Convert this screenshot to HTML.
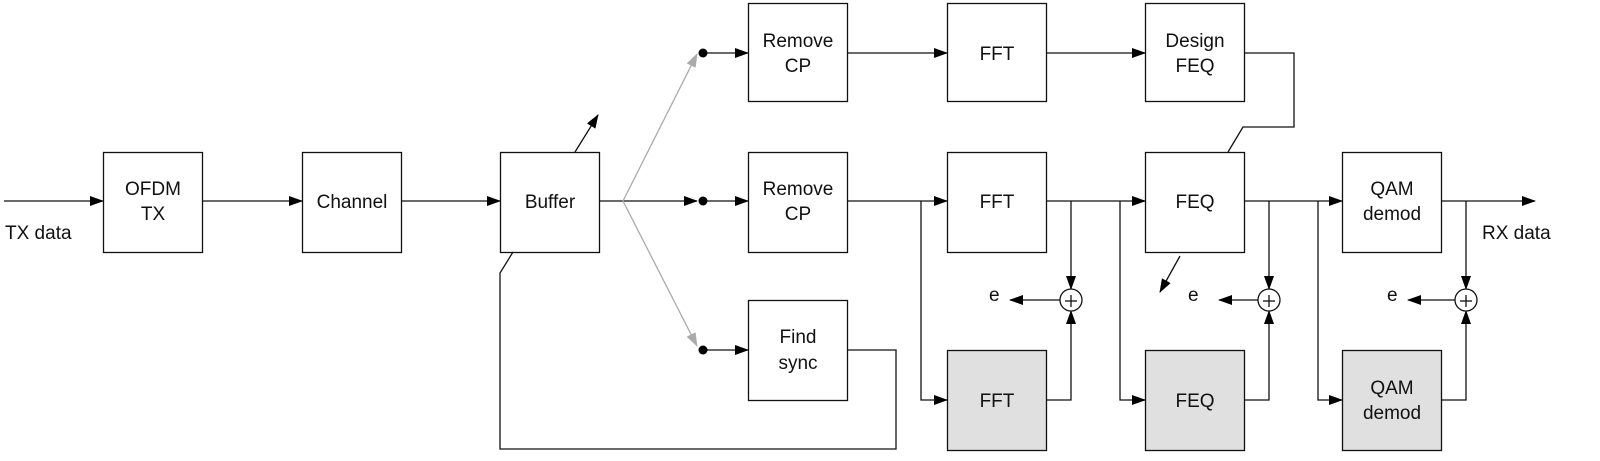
<!DOCTYPE html>
<html><head><meta charset="utf-8"><style>
html,body{margin:0;padding:0;background:#fff;overflow:hidden;width:1600px;height:461px;}
svg{display:block;}
text{font-family:"Liberation Sans",Arial,sans-serif;font-size:19px;fill:#111;}
</style></head><body>
<svg width="1600" height="461" viewBox="0 0 1600 461" xmlns="http://www.w3.org/2000/svg">
<defs>
<marker id="a" markerUnits="userSpaceOnUse" markerWidth="14" markerHeight="10" refX="13" refY="5" orient="auto"><path d="M0,0 L14,5 L0,10 Z" fill="#000"/></marker>
<marker id="g" markerUnits="userSpaceOnUse" markerWidth="14" markerHeight="10" refX="13" refY="5" orient="auto"><path d="M0,0 L14,5 L0,10 Z" fill="#aaa"/></marker>
</defs>
<g fill="none" stroke="#111" stroke-width="1.3">
<rect x="103.5" y="152.5" width="99" height="100" fill="#fff"/>
<rect x="302.5" y="152.5" width="99" height="100" fill="#fff"/>
<rect x="500.5" y="152.5" width="99" height="100" fill="#fff"/>
<rect x="748.5" y="3.5" width="99" height="98" fill="#fff"/>
<rect x="947.5" y="3.5" width="99" height="98" fill="#fff"/>
<rect x="1145.5" y="3.5" width="99" height="98" fill="#fff"/>
<rect x="748.5" y="152.5" width="99" height="100" fill="#fff"/>
<rect x="947.5" y="152.5" width="99" height="100" fill="#fff"/>
<rect x="1145.5" y="152.5" width="99" height="100" fill="#fff"/>
<rect x="1342.5" y="152.5" width="99" height="100" fill="#fff"/>
<rect x="748.5" y="300.5" width="99" height="100" fill="#fff"/>
<rect x="947.5" y="350.5" width="99" height="100" fill="#e0e0e0"/>
<rect x="1145.5" y="350.5" width="99" height="100" fill="#e0e0e0"/>
<rect x="1342.5" y="350.5" width="99" height="100" fill="#e0e0e0"/>
<line x1="4" y1="201" x2="103" y2="201" marker-end="url(#a)"/>
<line x1="203" y1="201" x2="302" y2="201" marker-end="url(#a)"/>
<line x1="401" y1="201" x2="500" y2="201" marker-end="url(#a)"/>
<line x1="599" y1="201" x2="697" y2="201" marker-end="url(#a)"/>
<line x1="575" y1="152" x2="598" y2="115" marker-end="url(#a)"/>
<line x1="623" y1="201" x2="697" y2="54" stroke="#aaa" marker-end="url(#g)"/>
<line x1="623" y1="201" x2="697" y2="346" stroke="#aaa" marker-end="url(#g)"/>
<line x1="703" y1="53" x2="748" y2="53" marker-end="url(#a)"/>
<line x1="703" y1="201" x2="748" y2="201" marker-end="url(#a)"/>
<line x1="703" y1="350" x2="748" y2="350" marker-end="url(#a)"/>
<line x1="847" y1="53" x2="947" y2="53" marker-end="url(#a)"/>
<line x1="1046" y1="53" x2="1145" y2="53" marker-end="url(#a)"/>
<polyline points="1244,53 1294,53 1294,127 1243,127 1228,152"/>
<polyline points="513,252 500,273 500,449 896,449 896,350 847,350"/>
<line x1="847" y1="201" x2="947" y2="201" marker-end="url(#a)"/>
<polyline points="921,201 921,400 947,400" marker-end="url(#a)"/>
<line x1="1046" y1="201" x2="1145" y2="201" marker-end="url(#a)"/>
<line x1="1071" y1="201" x2="1071" y2="289" marker-end="url(#a)"/>
<polyline points="1120,201 1120,400 1145,400" marker-end="url(#a)"/>
<polyline points="1046,400 1071,400 1071,311" marker-end="url(#a)"/>
<line x1="1060" y1="300" x2="1010" y2="300" marker-end="url(#a)"/>
<circle cx="1071" cy="300" r="11" fill="#fff"/>
<line x1="1180" y1="256" x2="1160" y2="292" marker-end="url(#a)"/>
<line x1="1244" y1="201" x2="1342" y2="201" marker-end="url(#a)"/>
<line x1="1269" y1="201" x2="1269" y2="289" marker-end="url(#a)"/>
<polyline points="1318,201 1318,400 1342,400" marker-end="url(#a)"/>
<polyline points="1244,400 1269,400 1269,311" marker-end="url(#a)"/>
<line x1="1258" y1="300" x2="1219" y2="300" marker-end="url(#a)"/>
<circle cx="1269" cy="300" r="11" fill="#fff"/>
<line x1="1441" y1="201" x2="1535" y2="201" marker-end="url(#a)"/>
<line x1="1466" y1="201" x2="1466" y2="289" marker-end="url(#a)"/>
<polyline points="1441,400 1466,400 1466,311" marker-end="url(#a)"/>
<line x1="1455" y1="300" x2="1408" y2="300" marker-end="url(#a)"/>
<circle cx="1466" cy="300" r="11" fill="#fff"/>
</g>
<g fill="#000">
<circle cx="703" cy="53" r="4.5"/><circle cx="703" cy="201" r="4.5"/><circle cx="703" cy="350" r="4.5"/>
</g>
<g stroke="#111" stroke-width="1.3">
<line x1="1065" y1="301" x2="1077" y2="301"/><line x1="1071" y1="295" x2="1071" y2="307"/>
<line x1="1263" y1="301" x2="1275" y2="301"/><line x1="1269" y1="295" x2="1269" y2="307"/>
<line x1="1460" y1="301" x2="1472" y2="301"/><line x1="1466" y1="295" x2="1466" y2="307"/>
</g>
<g text-anchor="middle">
<text x="153" y="195">OFDM</text><text x="153" y="220">TX</text>
<text x="352" y="208">Channel</text>
<text x="550" y="208">Buffer</text>
<text x="798" y="47">Remove</text><text x="798" y="72">CP</text>
<text x="997" y="60">FFT</text>
<text x="1195" y="47">Design</text><text x="1195" y="72">FEQ</text>
<text x="798" y="195">Remove</text><text x="798" y="220">CP</text>
<text x="997" y="208">FFT</text>
<text x="1195" y="208">FEQ</text>
<text x="1392" y="195">QAM</text><text x="1392" y="220">demod</text>
<text x="798" y="343">Find</text><text x="798" y="369">sync</text>
<text x="997" y="407">FFT</text>
<text x="1195" y="407">FEQ</text>
<text x="1392" y="394">QAM</text><text x="1392" y="419">demod</text>
</g>
<text x="5" y="239">TX data</text>
<text x="1482" y="239">RX data</text>
<text x="989" y="301">e</text>
<text x="1188" y="301">e</text>
<text x="1387" y="301">e</text>
</svg>
</body></html>
